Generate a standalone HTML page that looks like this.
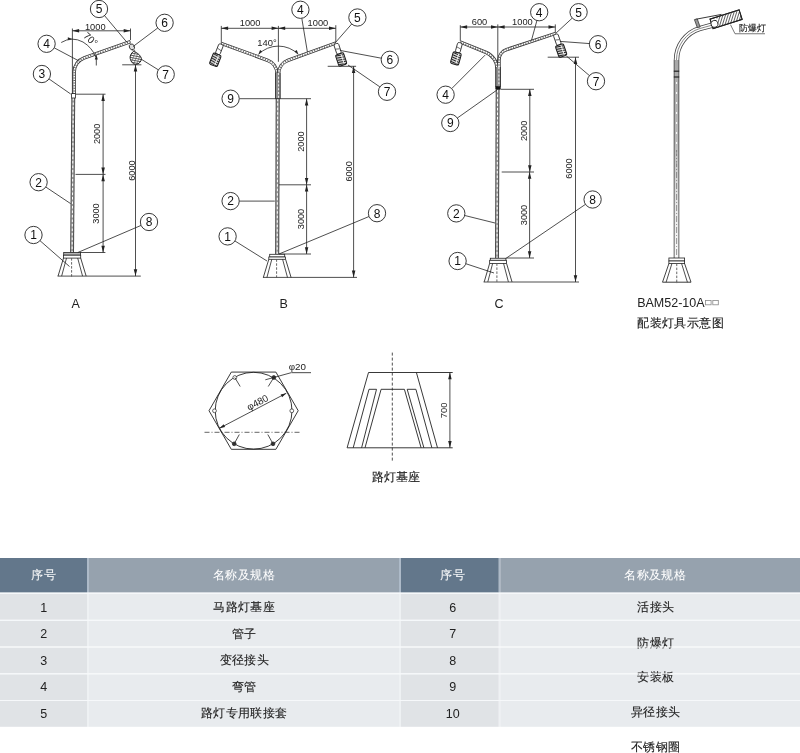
<!DOCTYPE html>
<html><head><meta charset="utf-8"><style>
html,body{margin:0;padding:0;background:#fff;width:800px;height:753px;overflow:hidden}
svg{position:absolute;left:0;top:0;will-change:transform;font-family:"Liberation Sans",sans-serif}
</style></head><body>
<svg width="800" height="753" viewBox="0 0 800 753">
<rect x="0" y="558" width="87" height="34.6" fill="#63778b"/><rect x="87" y="558" width="2" height="34.6" fill="#adbac8"/><rect x="89" y="558" width="310" height="34.6" fill="#96a2ae"/><rect x="399" y="558" width="2" height="34.6" fill="#adbac8"/><rect x="401" y="558" width="97.8" height="34.6" fill="#63778b"/><rect x="498.8" y="558" width="1.5" height="34.6" fill="#adbac8"/><rect x="500.3" y="558" width="300" height="34.6" fill="#96a2ae"/><rect x="0" y="592.6" width="800" height="1.4" fill="#f6f8fa"/><rect x="0" y="594" width="87" height="25.799999999999955" fill="#e0e3e6"/><rect x="87" y="594" width="2" height="25.799999999999955" fill="#eef1f3"/><rect x="89" y="594" width="310" height="25.799999999999955" fill="#e8ebee"/><rect x="399" y="594" width="2" height="25.799999999999955" fill="#eef1f3"/><rect x="401" y="594" width="97.8" height="25.799999999999955" fill="#e0e3e6"/><rect x="498.8" y="594" width="1.5" height="25.799999999999955" fill="#eef1f3"/><rect x="500.3" y="594" width="300" height="25.799999999999955" fill="#e8ebee"/><rect x="0" y="620.8" width="87" height="25.700000000000045" fill="#e0e3e6"/><rect x="87" y="620.8" width="2" height="25.700000000000045" fill="#eef1f3"/><rect x="89" y="620.8" width="310" height="25.700000000000045" fill="#e8ebee"/><rect x="399" y="620.8" width="2" height="25.700000000000045" fill="#eef1f3"/><rect x="401" y="620.8" width="97.8" height="25.700000000000045" fill="#e0e3e6"/><rect x="498.8" y="620.8" width="1.5" height="25.700000000000045" fill="#eef1f3"/><rect x="500.3" y="620.8" width="300" height="25.700000000000045" fill="#e8ebee"/><rect x="0" y="647.5" width="87" height="25.799999999999955" fill="#e0e3e6"/><rect x="87" y="647.5" width="2" height="25.799999999999955" fill="#eef1f3"/><rect x="89" y="647.5" width="310" height="25.799999999999955" fill="#e8ebee"/><rect x="399" y="647.5" width="2" height="25.799999999999955" fill="#eef1f3"/><rect x="401" y="647.5" width="97.8" height="25.799999999999955" fill="#e0e3e6"/><rect x="498.8" y="647.5" width="1.5" height="25.799999999999955" fill="#eef1f3"/><rect x="500.3" y="647.5" width="300" height="25.799999999999955" fill="#e8ebee"/><rect x="0" y="674.3" width="87" height="25.700000000000045" fill="#e0e3e6"/><rect x="87" y="674.3" width="2" height="25.700000000000045" fill="#eef1f3"/><rect x="89" y="674.3" width="310" height="25.700000000000045" fill="#e8ebee"/><rect x="399" y="674.3" width="2" height="25.700000000000045" fill="#eef1f3"/><rect x="401" y="674.3" width="97.8" height="25.700000000000045" fill="#e0e3e6"/><rect x="498.8" y="674.3" width="1.5" height="25.700000000000045" fill="#eef1f3"/><rect x="500.3" y="674.3" width="300" height="25.700000000000045" fill="#e8ebee"/><rect x="0" y="701" width="87" height="25.799999999999955" fill="#e0e3e6"/><rect x="87" y="701" width="2" height="25.799999999999955" fill="#eef1f3"/><rect x="89" y="701" width="310" height="25.799999999999955" fill="#e8ebee"/><rect x="399" y="701" width="2" height="25.799999999999955" fill="#eef1f3"/><rect x="401" y="701" width="97.8" height="25.799999999999955" fill="#e0e3e6"/><rect x="498.8" y="701" width="1.5" height="25.799999999999955" fill="#eef1f3"/><rect x="500.3" y="701" width="300" height="25.799999999999955" fill="#e8ebee"/><text x="43.60" y="578.70" font-size="12" text-anchor="middle" fill="#fff" letter-spacing="0.35" stroke="#fff" stroke-width="0.05">序号</text><text x="244.00" y="578.70" font-size="12" text-anchor="middle" fill="#fff" letter-spacing="0.35" stroke="#fff" stroke-width="0.05">名称及规格</text><text x="452.70" y="578.70" font-size="12" text-anchor="middle" fill="#fff" letter-spacing="0.35" stroke="#fff" stroke-width="0.05">序号</text><text x="655.30" y="578.70" font-size="12" text-anchor="middle" fill="#fff" letter-spacing="0.35" stroke="#fff" stroke-width="0.05">名称及规格</text><text x="43.70" y="612.10" font-size="12.5" text-anchor="middle" fill="#222" >1</text><text x="452.70" y="612.10" font-size="12.5" text-anchor="middle" fill="#222" >6</text><text x="244.30" y="611.30" font-size="12" text-anchor="middle" fill="#222" letter-spacing="0.35" stroke="#222" stroke-width="0.12">马路灯基座</text><text x="43.70" y="638.45" font-size="12.5" text-anchor="middle" fill="#222" >2</text><text x="452.70" y="638.45" font-size="12.5" text-anchor="middle" fill="#222" >7</text><text x="244.30" y="637.75" font-size="12" text-anchor="middle" fill="#222" letter-spacing="0.35" stroke="#222" stroke-width="0.12">管子</text><text x="43.70" y="664.80" font-size="12.5" text-anchor="middle" fill="#222" >3</text><text x="452.70" y="664.80" font-size="12.5" text-anchor="middle" fill="#222" >8</text><text x="244.30" y="664.20" font-size="12" text-anchor="middle" fill="#222" letter-spacing="0.35" stroke="#222" stroke-width="0.12">变径接头</text><text x="43.70" y="691.15" font-size="12.5" text-anchor="middle" fill="#222" >4</text><text x="452.70" y="691.15" font-size="12.5" text-anchor="middle" fill="#222" >9</text><text x="244.30" y="690.65" font-size="12" text-anchor="middle" fill="#222" letter-spacing="0.35" stroke="#222" stroke-width="0.12">弯管</text><text x="43.70" y="717.50" font-size="12.5" text-anchor="middle" fill="#222" >5</text><text x="452.70" y="717.50" font-size="12.5" text-anchor="middle" fill="#222" >10</text><text x="244.30" y="717.10" font-size="12" text-anchor="middle" fill="#222" letter-spacing="0.35" stroke="#222" stroke-width="0.12">路灯专用联接套</text><text x="655.80" y="610.80" font-size="12" text-anchor="middle" fill="#222" letter-spacing="0.35" stroke="#222" stroke-width="0.12">活接头</text><text x="655.80" y="646.60" font-size="12" text-anchor="middle" fill="#222" letter-spacing="0.35" stroke="#222" stroke-width="0.12">防爆灯</text><text x="655.80" y="680.90" font-size="12" text-anchor="middle" fill="#222" letter-spacing="0.35" stroke="#222" stroke-width="0.12">安装板</text><text x="655.80" y="716.00" font-size="12" text-anchor="middle" fill="#222" letter-spacing="0.35" stroke="#222" stroke-width="0.12">异径接头</text><text x="655.80" y="750.60" font-size="12" text-anchor="middle" fill="#222" letter-spacing="0.35" stroke="#222" stroke-width="0.12">不锈钢圈</text><rect x="0" y="619.8" width="800" height="1" fill="#f6f8fa"/><rect x="0" y="646.5" width="800" height="1" fill="#f6f8fa"/><rect x="0" y="673.3" width="800" height="1" fill="#f6f8fa"/><rect x="0" y="700" width="800" height="1" fill="#f6f8fa"/><line x1="73.30" y1="98.00" x2="72.10" y2="252.50" stroke="#333" stroke-width="3.8" /><line x1="73.30" y1="98.00" x2="72.10" y2="252.50" stroke="#9a9a9a" stroke-width="2.1999999999999997" /><line x1="73.30" y1="98.00" x2="72.10" y2="252.50" stroke="#fff" stroke-width="1.0" stroke-dasharray="2.5 2"/><path d="M74.2,94 L74.2,72 A15,15 0 0 1 84.25,57.84 L130.5,41.7" fill="none" stroke="#333" stroke-width="3.4"/><path d="M74.2,94 L74.2,72 A15,15 0 0 1 84.25,57.84 L130.5,41.7" fill="none" stroke="#fff" stroke-width="1.7999999999999998"/><path d="M74.2,94 L74.2,72 A15,15 0 0 1 84.25,57.84 L130.5,41.7" fill="none" stroke="#666" stroke-width="1.7999999999999998" stroke-dasharray="1 1.6"/><rect x="71.6" y="93.6" width="3.8" height="4.4" fill="#fff" stroke="#222" stroke-width="0.8"/><line x1="72.40" y1="28.50" x2="72.40" y2="94.00" stroke="#222" stroke-width="0.8" /><line x1="130.50" y1="28.50" x2="130.50" y2="40.00" stroke="#222" stroke-width="0.8" /><line x1="72.30" y1="30.80" x2="130.50" y2="30.80" stroke="#222" stroke-width="0.8" /><path d="M72.30,30.80 L79.10,29.05 L79.10,32.55Z" fill="#222"/><path d="M130.50,30.80 L123.70,32.55 L123.70,29.05Z" fill="#222"/><text transform="translate(95.25,29.90) scale(0.97,1)" font-size="9.6" text-anchor="middle" fill="#222">1000</text><line x1="76.00" y1="94.20" x2="105.50" y2="94.20" stroke="#222" stroke-width="0.8" /><line x1="75.50" y1="174.40" x2="105.50" y2="174.40" stroke="#222" stroke-width="0.8" /><line x1="80.00" y1="252.50" x2="105.40" y2="252.50" stroke="#222" stroke-width="0.8" /><line x1="103.10" y1="94.20" x2="103.10" y2="174.40" stroke="#222" stroke-width="0.8" /><path d="M103.10,94.20 L104.85,101.00 L101.35,101.00Z" fill="#222"/><path d="M103.10,174.40 L101.35,167.60 L104.85,167.60Z" fill="#222"/><text transform="translate(96.10,133.90) rotate(-90) scale(0.96,1)" font-size="9.6" text-anchor="middle" dominant-baseline="central" fill="#222">2000</text><line x1="103.10" y1="174.40" x2="103.10" y2="252.50" stroke="#222" stroke-width="0.8" /><path d="M103.10,174.40 L104.85,181.20 L101.35,181.20Z" fill="#222"/><path d="M103.10,252.50 L101.35,245.70 L104.85,245.70Z" fill="#222"/><text transform="translate(95.90,213.50) rotate(-90) scale(0.96,1)" font-size="9.6" text-anchor="middle" dominant-baseline="central" fill="#222">3000</text><line x1="122.20" y1="64.80" x2="141.40" y2="64.80" stroke="#222" stroke-width="0.8" /><line x1="57.60" y1="276.10" x2="140.80" y2="276.10" stroke="#222" stroke-width="0.8" /><line x1="135.50" y1="64.80" x2="135.50" y2="276.10" stroke="#222" stroke-width="0.8" /><path d="M135.50,64.80 L137.25,71.60 L133.75,71.60Z" fill="#222"/><path d="M135.50,276.10 L133.75,269.30 L137.25,269.30Z" fill="#222"/><text transform="translate(131.10,170.60) rotate(-90) scale(0.96,1)" font-size="9.6" text-anchor="middle" dominant-baseline="central" fill="#222">6000</text><path d="M61.2,42.5 Q72,36 83,42 Q92,47.5 95.8,57" fill="none" stroke="#222" stroke-width="0.8"/><path d="M72.30,38.90 L67.74,40.07 L67.88,37.28Z" fill="#222"/><path d="M96.30,54.60 L97.80,59.60 L94.80,59.60Z" fill="#222"/><line x1="96.30" y1="58.00" x2="96.30" y2="65.50" stroke="#222" stroke-width="0.8" /><text transform="translate(90.6,39.3) rotate(42)" font-size="10" text-anchor="middle" dominant-baseline="central" fill="#222">70°</text><ellipse cx="131.9" cy="46.9" rx="2.5" ry="3" fill="#ddd" stroke="#222" stroke-width="0.8" transform="rotate(-25 131.9 46.9)"/><path d="M132.6,49.8 L133.6,51.5 M134.2,49.5 L135,51.5" stroke="#222" stroke-width="0.7"/><defs><clipPath id="la"><path d="M133.5,51.3 C131,53.5 129.6,56 130.2,58.5 C130.8,62 133.5,64.5 135.8,64.5 C139,64 141.5,61.5 141.4,58.7 C141,55.5 137,52.5 133.5,51.3 Z"/></clipPath></defs><path d="M133.5,51.3 C131,53.5 129.6,56 130.2,58.5 C130.8,62 133.5,64.5 135.8,64.5 C139,64 141.5,61.5 141.4,58.7 C141,55.5 137,52.5 133.5,51.3 Z" fill="#fff"/><g clip-path="url(#la)"><line x1="128" y1="50.00" x2="143" y2="53.00" stroke="#333" stroke-width="0.8"/><line x1="128" y1="52.30" x2="143" y2="55.30" stroke="#333" stroke-width="0.8"/><line x1="128" y1="54.60" x2="143" y2="57.60" stroke="#333" stroke-width="0.8"/><line x1="128" y1="56.90" x2="143" y2="59.90" stroke="#333" stroke-width="0.8"/><line x1="128" y1="59.20" x2="143" y2="62.20" stroke="#333" stroke-width="0.8"/><line x1="128" y1="61.50" x2="143" y2="64.50" stroke="#333" stroke-width="0.8"/><line x1="128" y1="63.80" x2="143" y2="66.80" stroke="#333" stroke-width="0.8"/><line x1="127.00" y1="66" x2="133.00" y2="50" stroke="#555" stroke-width="0.6"/><line x1="130.00" y1="66" x2="136.00" y2="50" stroke="#555" stroke-width="0.6"/><line x1="133.00" y1="66" x2="139.00" y2="50" stroke="#555" stroke-width="0.6"/><line x1="136.00" y1="66" x2="142.00" y2="50" stroke="#555" stroke-width="0.6"/><line x1="139.00" y1="66" x2="145.00" y2="50" stroke="#555" stroke-width="0.6"/><line x1="142.00" y1="66" x2="148.00" y2="50" stroke="#555" stroke-width="0.6"/></g><path d="M133.5,51.3 C131,53.5 129.6,56 130.2,58.5 C130.8,62 133.5,64.5 135.8,64.5 C139,64 141.5,61.5 141.4,58.7 C141,55.5 137,52.5 133.5,51.3 Z" fill="none" stroke="#222" stroke-width="1"/><rect x="63.70" y="252.50" width="16.80" height="2.70" fill="#b5b5b5" stroke="#222" stroke-width="0.8"/><rect x="63.50" y="255.20" width="17.20" height="2.90" fill="#fff" stroke="#222" stroke-width="0.8"/><path d="M63.50,258.10 L58.05,276.10 M80.70,258.10 L86.15,276.10" stroke="#222" stroke-width="0.85" fill="none"/><path d="M66.50,258.10 L61.65,276.10 M77.70,258.10 L82.55,276.10" stroke="#222" stroke-width="0.8" fill="none"/><line x1="71.60" y1="258.10" x2="71.60" y2="277.60" stroke="#555" stroke-width="0.9" stroke-dasharray="2.5 1.5"/><line x1="104.56" y1="15.63" x2="127.10" y2="42.50" stroke="#222" stroke-width="0.8" /><circle cx="99.00" cy="9.00" r="8.65" fill="#fff" stroke="#222" stroke-width="0.9"/><text x="99.00" y="13.30" font-size="12" text-anchor="middle" fill="#111">5</text><line x1="54.24" y1="47.85" x2="78.10" y2="60.50" stroke="#222" stroke-width="0.8" /><circle cx="46.60" cy="43.80" r="8.65" fill="#fff" stroke="#222" stroke-width="0.9"/><text x="46.60" y="48.10" font-size="12" text-anchor="middle" fill="#111">4</text><line x1="49.00" y1="78.93" x2="70.70" y2="94.00" stroke="#222" stroke-width="0.8" /><circle cx="41.90" cy="74.00" r="8.65" fill="#fff" stroke="#222" stroke-width="0.9"/><text x="41.90" y="78.30" font-size="12" text-anchor="middle" fill="#111">3</text><line x1="157.69" y1="28.00" x2="133.10" y2="46.50" stroke="#222" stroke-width="0.8" /><circle cx="164.60" cy="22.80" r="8.65" fill="#fff" stroke="#222" stroke-width="0.9"/><text x="164.60" y="27.10" font-size="12" text-anchor="middle" fill="#111">6</text><line x1="158.35" y1="69.83" x2="141.10" y2="59.10" stroke="#222" stroke-width="0.8" /><circle cx="165.70" cy="74.40" r="8.65" fill="#fff" stroke="#222" stroke-width="0.9"/><text x="165.70" y="78.70" font-size="12" text-anchor="middle" fill="#111">7</text><line x1="45.79" y1="187.01" x2="70.60" y2="203.60" stroke="#222" stroke-width="0.8" /><circle cx="38.60" cy="182.20" r="8.65" fill="#fff" stroke="#222" stroke-width="0.9"/><text x="38.60" y="186.50" font-size="12" text-anchor="middle" fill="#111">2</text><line x1="40.01" y1="240.70" x2="69.50" y2="266.50" stroke="#222" stroke-width="0.8" /><circle cx="33.50" cy="235.00" r="8.65" fill="#fff" stroke="#222" stroke-width="0.9"/><text x="33.50" y="239.30" font-size="12" text-anchor="middle" fill="#111">1</text><line x1="141.05" y1="225.41" x2="77.80" y2="252.50" stroke="#222" stroke-width="0.8" /><circle cx="149.00" cy="222.00" r="8.65" fill="#fff" stroke="#222" stroke-width="0.9"/><text x="149.00" y="226.30" font-size="12" text-anchor="middle" fill="#111">8</text><text x="75.60" y="308.00" font-size="12.5" text-anchor="middle" fill="#222" >A</text><line x1="277.70" y1="98.70" x2="277.20" y2="254.30" stroke="#333" stroke-width="4.0" /><line x1="277.70" y1="98.70" x2="277.20" y2="254.30" stroke="#9a9a9a" stroke-width="2.4" /><line x1="277.70" y1="98.70" x2="277.20" y2="254.30" stroke="#fff" stroke-width="1.0" stroke-dasharray="2.5 2"/><path d="M276.90,98.70 L276.90,73.47 A14,14 0 0 0 267.69,60.31 L221.50,43.50" fill="none" stroke="#333" stroke-width="3.4"/><path d="M276.90,98.70 L276.90,73.47 A14,14 0 0 0 267.69,60.31 L221.50,43.50" fill="none" stroke="#fff" stroke-width="1.7999999999999998"/><path d="M276.90,98.70 L276.90,73.47 A14,14 0 0 0 267.69,60.31 L221.50,43.50" fill="none" stroke="#666" stroke-width="1.7999999999999998" stroke-dasharray="1 1.6"/><path d="M278.70,98.70 L278.70,73.59 A14,14 0 0 1 287.91,60.43 L335.80,43.00" fill="none" stroke="#333" stroke-width="3.4"/><path d="M278.70,98.70 L278.70,73.59 A14,14 0 0 1 287.91,60.43 L335.80,43.00" fill="none" stroke="#fff" stroke-width="1.7999999999999998"/><path d="M278.70,98.70 L278.70,73.59 A14,14 0 0 1 287.91,60.43 L335.80,43.00" fill="none" stroke="#666" stroke-width="1.7999999999999998" stroke-dasharray="1 1.6"/><line x1="277.80" y1="73.00" x2="277.80" y2="98.70" stroke="#333" stroke-width="5.4" /><line x1="277.80" y1="73.00" x2="277.80" y2="98.70" stroke="#8c8c8c" stroke-width="3.8000000000000003" /><line x1="278.60" y1="73.00" x2="278.60" y2="98.70" stroke="#fff" stroke-width="0.9" stroke-dasharray="2 1.8"/><line x1="221.30" y1="25.90" x2="221.30" y2="43.50" stroke="#222" stroke-width="0.8" /><line x1="278.40" y1="25.90" x2="278.40" y2="61.80" stroke="#222" stroke-width="0.8" /><line x1="335.80" y1="25.20" x2="335.80" y2="42.20" stroke="#222" stroke-width="0.8" /><line x1="221.30" y1="28.30" x2="278.40" y2="28.30" stroke="#222" stroke-width="0.8" /><path d="M221.30,28.30 L228.10,26.55 L228.10,30.05Z" fill="#222"/><path d="M278.40,28.30 L271.60,30.05 L271.60,26.55Z" fill="#222"/><text transform="translate(250.05,25.70) scale(0.97,1)" font-size="9.6" text-anchor="middle" fill="#222">1000</text><line x1="278.40" y1="28.30" x2="335.80" y2="28.30" stroke="#222" stroke-width="0.8" /><path d="M278.40,28.30 L285.20,26.55 L285.20,30.05Z" fill="#222"/><path d="M335.80,28.30 L329.00,30.05 L329.00,26.55Z" fill="#222"/><text transform="translate(317.95,25.70) scale(0.97,1)" font-size="9.6" text-anchor="middle" fill="#222">1000</text><path d="M258.46,54.36 A28.2,28.2 0 0 1 298.34,54.36" fill="none" stroke="#222" stroke-width="0.8"/><path d="M258.46,54.36 L260.04,49.92 L262.28,51.60Z" fill="#222"/><path d="M298.34,54.36 L294.52,51.60 L296.76,49.92Z" fill="#222"/><text x="267.00" y="46.30" font-size="9.4" text-anchor="middle" fill="#222" >140°</text><g transform="translate(221.50,43.80) rotate(21.18)"><rect x="-2.4" y="0.5" width="4.8" height="10.66" rx="1.6" fill="#fff" stroke="#222" stroke-width="0.8"/><line x1="-2" y1="5.58" x2="2" y2="6.58" stroke="#222" stroke-width="0.6"/><rect x="-4.2" y="11.16" width="8.4" height="12" rx="1.5" fill="#cfcfcf" stroke="#1a1a1a" stroke-width="1"/><line x1="-4" y1="12.16" x2="4" y2="13.36" stroke="#222" stroke-width="0.9"/><line x1="-4" y1="14.46" x2="4" y2="15.66" stroke="#222" stroke-width="0.9"/><line x1="-4" y1="16.76" x2="4" y2="17.96" stroke="#222" stroke-width="0.9"/><line x1="-4" y1="19.06" x2="4" y2="20.26" stroke="#222" stroke-width="0.9"/><line x1="-4" y1="21.36" x2="4" y2="22.56" stroke="#222" stroke-width="0.9"/><line x1="1.5" y1="12.16" x2="1.5" y2="22.16" stroke="#fff" stroke-width="0.8"/></g><g transform="translate(335.80,43.20) rotate(-18.33)"><rect x="-2.4" y="0.5" width="4.8" height="10.67" rx="1.6" fill="#fff" stroke="#222" stroke-width="0.8"/><line x1="-2" y1="5.59" x2="2" y2="6.59" stroke="#222" stroke-width="0.6"/><rect x="-4.2" y="11.17" width="8.4" height="12" rx="1.5" fill="#cfcfcf" stroke="#1a1a1a" stroke-width="1"/><line x1="-4" y1="12.17" x2="4" y2="13.37" stroke="#222" stroke-width="0.9"/><line x1="-4" y1="14.47" x2="4" y2="15.67" stroke="#222" stroke-width="0.9"/><line x1="-4" y1="16.77" x2="4" y2="17.97" stroke="#222" stroke-width="0.9"/><line x1="-4" y1="19.07" x2="4" y2="20.27" stroke="#222" stroke-width="0.9"/><line x1="-4" y1="21.37" x2="4" y2="22.57" stroke="#222" stroke-width="0.9"/><line x1="1.5" y1="12.17" x2="1.5" y2="22.17" stroke="#fff" stroke-width="0.8"/></g><line x1="327.70" y1="66.30" x2="356.10" y2="66.30" stroke="#222" stroke-width="0.8" /><line x1="239.50" y1="98.70" x2="311.00" y2="98.70" stroke="#222" stroke-width="0.8" /><line x1="279.00" y1="184.80" x2="311.00" y2="184.80" stroke="#222" stroke-width="0.8" /><line x1="279.00" y1="254.00" x2="311.00" y2="254.00" stroke="#222" stroke-width="0.8" /><line x1="306.60" y1="98.70" x2="306.60" y2="184.80" stroke="#222" stroke-width="0.8" /><path d="M306.60,98.70 L308.35,105.50 L304.85,105.50Z" fill="#222"/><path d="M306.60,184.80 L304.85,178.00 L308.35,178.00Z" fill="#222"/><text transform="translate(300.50,141.60) rotate(-90) scale(0.96,1)" font-size="9.6" text-anchor="middle" dominant-baseline="central" fill="#222">2000</text><line x1="306.60" y1="184.80" x2="306.60" y2="254.00" stroke="#222" stroke-width="0.8" /><path d="M306.60,184.80 L308.35,191.60 L304.85,191.60Z" fill="#222"/><path d="M306.60,254.00 L304.85,247.20 L308.35,247.20Z" fill="#222"/><text transform="translate(300.50,219.00) rotate(-90) scale(0.96,1)" font-size="9.6" text-anchor="middle" dominant-baseline="central" fill="#222">3000</text><line x1="353.60" y1="66.30" x2="353.60" y2="277.40" stroke="#222" stroke-width="0.8" /><path d="M353.60,66.30 L355.35,73.10 L351.85,73.10Z" fill="#222"/><path d="M353.60,277.40 L351.85,270.60 L355.35,270.60Z" fill="#222"/><text transform="translate(348.10,171.40) rotate(-90) scale(0.96,1)" font-size="9.6" text-anchor="middle" dominant-baseline="central" fill="#222">6000</text><line x1="263.00" y1="277.40" x2="357.00" y2="277.40" stroke="#222" stroke-width="0.8" /><rect x="269.70" y="254.30" width="15.00" height="2.70" fill="#fff" stroke="#222" stroke-width="0.8"/><rect x="268.80" y="257.00" width="16.80" height="2.30" fill="#fff" stroke="#222" stroke-width="0.8"/><path d="M268.80,259.30 L263.30,277.50 M285.60,259.30 L291.10,277.50" stroke="#222" stroke-width="0.85" fill="none"/><path d="M271.80,259.30 L266.90,277.50 M282.60,259.30 L287.50,277.50" stroke="#222" stroke-width="0.8" fill="none"/><line x1="276.60" y1="259.30" x2="276.60" y2="279.00" stroke="#555" stroke-width="0.9" stroke-dasharray="2.5 1.5"/><circle cx="230.60" cy="98.70" r="8.65" fill="#fff" stroke="#222" stroke-width="0.9"/><text x="230.60" y="103.00" font-size="12" text-anchor="middle" fill="#111">9</text><line x1="239.25" y1="201.10" x2="274.80" y2="201.10" stroke="#222" stroke-width="0.8" /><circle cx="230.60" cy="201.10" r="8.65" fill="#fff" stroke="#222" stroke-width="0.9"/><text x="230.60" y="205.40" font-size="12" text-anchor="middle" fill="#111">2</text><line x1="234.94" y1="240.98" x2="267.00" y2="261.00" stroke="#222" stroke-width="0.8" /><circle cx="227.60" cy="236.40" r="8.65" fill="#fff" stroke="#222" stroke-width="0.9"/><text x="227.60" y="240.70" font-size="12" text-anchor="middle" fill="#111">1</text><line x1="369.01" y1="216.52" x2="279.00" y2="254.00" stroke="#222" stroke-width="0.8" /><circle cx="377.00" cy="213.20" r="8.65" fill="#fff" stroke="#222" stroke-width="0.9"/><text x="377.00" y="217.50" font-size="12" text-anchor="middle" fill="#111">8</text><line x1="301.81" y1="18.28" x2="307.40" y2="52.00" stroke="#222" stroke-width="0.8" /><circle cx="300.40" cy="9.75" r="8.65" fill="#fff" stroke="#222" stroke-width="0.9"/><text x="300.40" y="14.05" font-size="12" text-anchor="middle" fill="#111">4</text><line x1="351.69" y1="24.00" x2="335.00" y2="43.00" stroke="#222" stroke-width="0.8" /><circle cx="357.40" cy="17.50" r="8.65" fill="#fff" stroke="#222" stroke-width="0.9"/><text x="357.40" y="21.80" font-size="12" text-anchor="middle" fill="#111">5</text><line x1="381.30" y1="58.20" x2="339.90" y2="50.40" stroke="#222" stroke-width="0.8" /><circle cx="389.80" cy="59.80" r="8.65" fill="#fff" stroke="#222" stroke-width="0.9"/><text x="389.80" y="64.10" font-size="12" text-anchor="middle" fill="#111">6</text><line x1="379.87" y1="86.90" x2="348.00" y2="65.00" stroke="#222" stroke-width="0.8" /><circle cx="387.00" cy="91.80" r="8.65" fill="#fff" stroke="#222" stroke-width="0.9"/><text x="387.00" y="96.10" font-size="12" text-anchor="middle" fill="#111">7</text><text x="283.60" y="308.00" font-size="12.5" text-anchor="middle" fill="#222" >B</text><line x1="497.60" y1="90.00" x2="497.00" y2="258.25" stroke="#333" stroke-width="3.8" /><line x1="497.60" y1="90.00" x2="497.00" y2="258.25" stroke="#9a9a9a" stroke-width="2.1999999999999997" /><line x1="497.60" y1="90.00" x2="497.00" y2="258.25" stroke="#fff" stroke-width="1.0" stroke-dasharray="2.5 2"/><path d="M497.20,89.00 L497.20,69.05 A18,18 0 0 0 485.94,52.36 L460.30,42.00" fill="none" stroke="#333" stroke-width="3.4"/><path d="M497.20,89.00 L497.20,69.05 A18,18 0 0 0 485.94,52.36 L460.30,42.00" fill="none" stroke="#fff" stroke-width="1.7999999999999998"/><path d="M497.20,89.00 L497.20,69.05 A18,18 0 0 0 485.94,52.36 L460.30,42.00" fill="none" stroke="#666" stroke-width="1.7999999999999998" stroke-dasharray="1 1.6"/><path d="M499.00,89.00 L499.00,60.07 A11,11 0 0 1 506.55,49.62 L555.30,33.50" fill="none" stroke="#333" stroke-width="3.4"/><path d="M499.00,89.00 L499.00,60.07 A11,11 0 0 1 506.55,49.62 L555.30,33.50" fill="none" stroke="#fff" stroke-width="1.7999999999999998"/><path d="M499.00,89.00 L499.00,60.07 A11,11 0 0 1 506.55,49.62 L555.30,33.50" fill="none" stroke="#666" stroke-width="1.7999999999999998" stroke-dasharray="1 1.6"/><line x1="498.10" y1="67.00" x2="498.10" y2="87.00" stroke="#333" stroke-width="5.4" /><line x1="498.10" y1="67.00" x2="498.10" y2="87.00" stroke="#8c8c8c" stroke-width="3.8000000000000003" /><line x1="498.90" y1="67.00" x2="498.90" y2="87.00" stroke="#fff" stroke-width="0.9" stroke-dasharray="2 1.8"/><rect x="495.6" y="86.2" width="4.6" height="3.6" fill="#111"/><line x1="460.30" y1="25.20" x2="460.30" y2="41.20" stroke="#222" stroke-width="0.8" /><line x1="497.80" y1="24.40" x2="497.80" y2="62.40" stroke="#222" stroke-width="0.8" /><line x1="555.30" y1="24.40" x2="555.30" y2="33.00" stroke="#222" stroke-width="0.8" /><line x1="460.30" y1="27.00" x2="497.80" y2="27.00" stroke="#222" stroke-width="0.8" /><path d="M460.30,27.00 L467.10,25.25 L467.10,28.75Z" fill="#222"/><path d="M497.80,27.00 L491.00,28.75 L491.00,25.25Z" fill="#222"/><text transform="translate(479.50,24.80) scale(0.97,1)" font-size="9.6" text-anchor="middle" fill="#222">600</text><line x1="497.80" y1="27.00" x2="555.30" y2="27.00" stroke="#222" stroke-width="0.8" /><path d="M497.80,27.00 L504.60,25.25 L504.60,28.75Z" fill="#222"/><path d="M555.30,27.00 L548.50,28.75 L548.50,25.25Z" fill="#222"/><text transform="translate(522.45,24.80) scale(0.97,1)" font-size="9.6" text-anchor="middle" fill="#222">1000</text><g transform="translate(460.30,42.30) rotate(15.29)"><rect x="-2.4" y="0.5" width="4.8" height="10.19" rx="1.6" fill="#fff" stroke="#222" stroke-width="0.8"/><line x1="-2" y1="5.35" x2="2" y2="6.35" stroke="#222" stroke-width="0.6"/><rect x="-4.2" y="10.69" width="8.4" height="12" rx="1.5" fill="#cfcfcf" stroke="#1a1a1a" stroke-width="1"/><line x1="-4" y1="11.69" x2="4" y2="12.89" stroke="#222" stroke-width="0.9"/><line x1="-4" y1="13.99" x2="4" y2="15.19" stroke="#222" stroke-width="0.9"/><line x1="-4" y1="16.29" x2="4" y2="17.49" stroke="#222" stroke-width="0.9"/><line x1="-4" y1="18.59" x2="4" y2="19.79" stroke="#222" stroke-width="0.9"/><line x1="-4" y1="20.89" x2="4" y2="22.09" stroke="#222" stroke-width="0.9"/><line x1="1.5" y1="11.69" x2="1.5" y2="21.69" stroke="#fff" stroke-width="0.8"/></g><g transform="translate(555.30,33.80) rotate(-19.35)"><rect x="-2.4" y="0.5" width="4.8" height="11.31" rx="1.6" fill="#fff" stroke="#222" stroke-width="0.8"/><line x1="-2" y1="5.90" x2="2" y2="6.90" stroke="#222" stroke-width="0.6"/><rect x="-4.2" y="11.81" width="8.4" height="12" rx="1.5" fill="#cfcfcf" stroke="#1a1a1a" stroke-width="1"/><line x1="-4" y1="12.81" x2="4" y2="14.01" stroke="#222" stroke-width="0.9"/><line x1="-4" y1="15.11" x2="4" y2="16.31" stroke="#222" stroke-width="0.9"/><line x1="-4" y1="17.41" x2="4" y2="18.61" stroke="#222" stroke-width="0.9"/><line x1="-4" y1="19.71" x2="4" y2="20.91" stroke="#222" stroke-width="0.9"/><line x1="-4" y1="22.01" x2="4" y2="23.21" stroke="#222" stroke-width="0.9"/><line x1="1.5" y1="12.81" x2="1.5" y2="22.81" stroke="#fff" stroke-width="0.8"/></g><line x1="547.70" y1="57.20" x2="579.00" y2="57.20" stroke="#222" stroke-width="0.8" /><line x1="500.50" y1="89.30" x2="534.00" y2="89.30" stroke="#222" stroke-width="0.8" /><line x1="501.70" y1="172.00" x2="534.00" y2="172.00" stroke="#222" stroke-width="0.8" /><line x1="506.00" y1="258.00" x2="534.00" y2="258.00" stroke="#222" stroke-width="0.8" /><line x1="529.80" y1="89.30" x2="529.80" y2="172.00" stroke="#222" stroke-width="0.8" /><path d="M529.80,89.30 L531.55,96.10 L528.05,96.10Z" fill="#222"/><path d="M529.80,172.00 L528.05,165.20 L531.55,165.20Z" fill="#222"/><text transform="translate(523.30,130.90) rotate(-90) scale(0.96,1)" font-size="9.6" text-anchor="middle" dominant-baseline="central" fill="#222">2000</text><line x1="529.60" y1="172.00" x2="529.60" y2="258.00" stroke="#222" stroke-width="0.8" /><path d="M529.60,172.00 L531.35,178.80 L527.85,178.80Z" fill="#222"/><path d="M529.60,258.00 L527.85,251.20 L531.35,251.20Z" fill="#222"/><text transform="translate(523.30,215.00) rotate(-90) scale(0.96,1)" font-size="9.6" text-anchor="middle" dominant-baseline="central" fill="#222">3000</text><line x1="575.50" y1="57.20" x2="575.50" y2="282.00" stroke="#222" stroke-width="0.8" /><path d="M575.50,57.20 L577.25,64.00 L573.75,64.00Z" fill="#222"/><path d="M575.50,282.00 L573.75,275.20 L577.25,275.20Z" fill="#222"/><text transform="translate(568.80,168.50) rotate(-90) scale(0.96,1)" font-size="9.6" text-anchor="middle" dominant-baseline="central" fill="#222">6000</text><line x1="483.60" y1="282.00" x2="579.00" y2="282.00" stroke="#222" stroke-width="0.8" /><rect x="490.30" y="258.25" width="15.60" height="2.05" fill="#fff" stroke="#222" stroke-width="0.8"/><rect x="489.65" y="260.30" width="16.90" height="3.10" fill="#fff" stroke="#222" stroke-width="0.8"/><path d="M489.65,263.40 L484.20,281.90 M506.55,263.40 L512.00,281.90" stroke="#222" stroke-width="0.85" fill="none"/><path d="M492.65,263.40 L487.80,281.90 M503.55,263.40 L508.40,281.90" stroke="#222" stroke-width="0.8" fill="none"/><line x1="496.90" y1="263.40" x2="496.90" y2="283.40" stroke="#555" stroke-width="0.9" stroke-dasharray="2.5 1.5"/><line x1="536.91" y1="20.54" x2="531.40" y2="40.60" stroke="#222" stroke-width="0.8" /><circle cx="539.20" cy="12.20" r="8.65" fill="#fff" stroke="#222" stroke-width="0.9"/><text x="539.20" y="16.50" font-size="12" text-anchor="middle" fill="#111">4</text><line x1="572.25" y1="18.08" x2="555.80" y2="33.30" stroke="#222" stroke-width="0.8" /><circle cx="578.60" cy="12.20" r="8.65" fill="#fff" stroke="#222" stroke-width="0.9"/><text x="578.60" y="16.50" font-size="12" text-anchor="middle" fill="#111">5</text><line x1="589.37" y1="43.57" x2="559.90" y2="41.40" stroke="#222" stroke-width="0.8" /><circle cx="598.00" cy="44.20" r="8.65" fill="#fff" stroke="#222" stroke-width="0.9"/><text x="598.00" y="48.50" font-size="12" text-anchor="middle" fill="#111">6</text><line x1="589.41" y1="75.59" x2="566.40" y2="56.00" stroke="#222" stroke-width="0.8" /><circle cx="596.00" cy="81.20" r="8.65" fill="#fff" stroke="#222" stroke-width="0.9"/><text x="596.00" y="85.50" font-size="12" text-anchor="middle" fill="#111">7</text><line x1="451.71" y1="88.58" x2="485.10" y2="55.10" stroke="#222" stroke-width="0.8" /><circle cx="445.60" cy="94.70" r="8.65" fill="#fff" stroke="#222" stroke-width="0.9"/><text x="445.60" y="99.00" font-size="12" text-anchor="middle" fill="#111">4</text><line x1="457.36" y1="118.01" x2="497.00" y2="90.00" stroke="#222" stroke-width="0.8" /><circle cx="450.30" cy="123.00" r="8.65" fill="#fff" stroke="#222" stroke-width="0.9"/><text x="450.30" y="127.30" font-size="12" text-anchor="middle" fill="#111">9</text><line x1="464.70" y1="215.48" x2="495.00" y2="223.00" stroke="#222" stroke-width="0.8" /><circle cx="456.30" cy="213.40" r="8.65" fill="#fff" stroke="#222" stroke-width="0.9"/><text x="456.30" y="217.70" font-size="12" text-anchor="middle" fill="#111">2</text><line x1="585.45" y1="204.36" x2="506.50" y2="258.00" stroke="#222" stroke-width="0.8" /><circle cx="592.60" cy="199.50" r="8.65" fill="#fff" stroke="#222" stroke-width="0.9"/><text x="592.60" y="203.80" font-size="12" text-anchor="middle" fill="#111">8</text><line x1="465.82" y1="263.71" x2="494.00" y2="273.00" stroke="#222" stroke-width="0.8" /><circle cx="457.60" cy="261.00" r="8.65" fill="#fff" stroke="#222" stroke-width="0.9"/><text x="457.60" y="265.30" font-size="12" text-anchor="middle" fill="#111">1</text><text x="499.00" y="308.00" font-size="12.5" text-anchor="middle" fill="#222" >C</text><defs><linearGradient id="dg" gradientUnits="userSpaceOnUse" x1="0" y1="60" x2="0" y2="258"><stop offset="0" stop-color="#a8a8a8"/><stop offset="0.4" stop-color="#b8b8b8"/><stop offset="0.75" stop-color="#e8e8e8"/><stop offset="1" stop-color="#f8f8f8"/></linearGradient></defs><path d="M676.5,258 L676.5,60" fill="none" stroke="#4a4a4a" stroke-width="5.6"/><path d="M676.5,258 L676.5,60" fill="none" stroke="url(#dg)" stroke-width="3.9"/><path d="M676.5,60 A33,33 0 0 1 699.9,28.5 L711.5,25.3" fill="none" stroke="#444" stroke-width="5.4"/><path d="M676.5,60 A33,33 0 0 1 699.9,28.5 L711.5,25.3" fill="none" stroke="#fff" stroke-width="3.8"/><path d="M676.5,60 A33,33 0 0 1 699.9,28.5 L711.5,25.3" fill="none" stroke="#555" stroke-width="0.7"/><line x1="676.60" y1="82.00" x2="676.60" y2="170.00" stroke="#fff" stroke-width="1" stroke-dasharray="2 8"/><line x1="676.60" y1="150.00" x2="676.60" y2="256.00" stroke="#555" stroke-width="0.6" stroke-dasharray="6 2 1 2"/><rect x="673.8" y="70.6" width="5.4" height="1.2" fill="#222"/><rect x="673.8" y="76.4" width="5.4" height="1.2" fill="#222"/><path d="M695.6,19.3 L721.5,14.4" stroke="#222" stroke-width="0.9"/><path d="M694.4,19.6 L697.3,19 L700.2,27 L697.3,27.6 Z" fill="#999" stroke="#222" stroke-width="0.7"/><defs><clipPath id="lc"><rect x="5" y="-5" width="24" height="10"/></clipPath></defs><g transform="translate(713,23.5) rotate(-17.7)"><rect x="-1.5" y="-5" width="30.5" height="10" fill="#fff" stroke="#222" stroke-width="1"/><g clip-path="url(#lc)"><line x1="-4.00" y1="5" x2="3.00" y2="-5" stroke="#555" stroke-width="0.85"/><line x1="-1.00" y1="5" x2="6.00" y2="-5" stroke="#555" stroke-width="0.85"/><line x1="2.00" y1="5" x2="9.00" y2="-5" stroke="#555" stroke-width="0.85"/><line x1="5.00" y1="5" x2="12.00" y2="-5" stroke="#555" stroke-width="0.85"/><line x1="8.00" y1="5" x2="15.00" y2="-5" stroke="#555" stroke-width="0.85"/><line x1="11.00" y1="5" x2="18.00" y2="-5" stroke="#555" stroke-width="0.85"/><line x1="14.00" y1="5" x2="21.00" y2="-5" stroke="#555" stroke-width="0.85"/><line x1="17.00" y1="5" x2="24.00" y2="-5" stroke="#555" stroke-width="0.85"/><line x1="20.00" y1="5" x2="27.00" y2="-5" stroke="#555" stroke-width="0.85"/><line x1="23.00" y1="5" x2="30.00" y2="-5" stroke="#555" stroke-width="0.85"/><line x1="26.00" y1="5" x2="33.00" y2="-5" stroke="#555" stroke-width="0.85"/><line x1="29.00" y1="5" x2="36.00" y2="-5" stroke="#555" stroke-width="0.85"/></g><rect x="-1.5" y="-5" width="30.5" height="10" fill="none" stroke="#222" stroke-width="1"/><circle cx="1.3" cy="0.8" r="3.4" fill="#fff" stroke="#222" stroke-width="0.9"/></g><path d="M730.5,24.7 L735,33.75 L765,33.75" fill="none" stroke="#555" stroke-width="0.8"/><text x="739.30" y="31.30" font-size="9.2" text-anchor="start" fill="#222" stroke="#222" stroke-width="0.15">防爆灯</text><rect x="668.90" y="258.00" width="15.70" height="3.00" fill="#fff" stroke="#222" stroke-width="0.8"/><rect x="668.90" y="261.00" width="15.70" height="2.60" fill="#fff" stroke="#222" stroke-width="0.8"/><path d="M668.90,263.60 L662.50,282.20 M684.60,263.60 L691.00,282.20" stroke="#222" stroke-width="0.85" fill="none"/><path d="M671.90,263.60 L666.10,282.20 M681.60,263.60 L687.40,282.20" stroke="#222" stroke-width="0.8" fill="none"/><line x1="676.75" y1="263.60" x2="676.75" y2="283.70" stroke="#555" stroke-width="0.9" stroke-dasharray="2.5 1.5"/><line x1="662.50" y1="282.20" x2="691.00" y2="282.20" stroke="#222" stroke-width="0.9" /><text x="637.20" y="306.50" font-size="12.5" text-anchor="start" fill="#222" >BAM52-10A</text><rect x="705.6" y="300.4" width="5.5" height="4.4" fill="none" stroke="#888" stroke-width="0.8"/><rect x="712.8" y="300.4" width="5.5" height="4.4" fill="none" stroke="#888" stroke-width="0.8"/><text x="637.20" y="326.50" font-size="12.2" text-anchor="start" fill="#222" letter-spacing="0.4" stroke="#222" stroke-width="0.15">配装灯具示意图</text><polygon points="298.20,410.70 275.90,449.32 231.30,449.32 209.00,410.70 231.30,372.08 275.90,372.08" fill="none" stroke="#222" stroke-width="0.9"/><circle cx="253.6" cy="410.7" r="38.4" fill="none" stroke="#222" stroke-width="0.9"/><circle cx="234.8" cy="377.5" r="1.9" fill="#fff" stroke="#222" stroke-width="0.7"/><circle cx="273.8" cy="377.5" r="1.9" fill="#333" stroke="#222" stroke-width="0.7"/><circle cx="214.5" cy="410.8" r="1.9" fill="#fff" stroke="#222" stroke-width="0.7"/><circle cx="291.8" cy="410.8" r="1.9" fill="#fff" stroke="#222" stroke-width="0.7"/><circle cx="234.2" cy="443.8" r="1.9" fill="#333" stroke="#222" stroke-width="0.7"/><circle cx="273" cy="443.8" r="1.9" fill="#333" stroke="#222" stroke-width="0.7"/><line x1="234.80" y1="377.50" x2="240.20" y2="386.50" stroke="#222" stroke-width="0.8" /><line x1="273.80" y1="377.50" x2="268.25" y2="386.50" stroke="#222" stroke-width="0.8" /><line x1="234.20" y1="443.80" x2="239.30" y2="434.50" stroke="#222" stroke-width="0.8" /><line x1="273.00" y1="443.80" x2="267.80" y2="434.50" stroke="#222" stroke-width="0.8" /><line x1="265.30" y1="379.80" x2="291.50" y2="372.60" stroke="#222" stroke-width="0.8" /><line x1="291.50" y1="372.60" x2="311.00" y2="372.60" stroke="#666" stroke-width="1.2" /><text x="297.30" y="370.30" font-size="9.8" text-anchor="middle" fill="#222" >φ20</text><line x1="219.50" y1="428.20" x2="286.25" y2="393.25" stroke="#222" stroke-width="0.8" /><path d="M219.50,428.20 L223.63,424.23 L225.11,427.07Z" fill="#222"/><path d="M286.25,393.25 L282.12,397.22 L280.64,394.38Z" fill="#222"/><text transform="translate(257.5,402.3) rotate(-27.6)" font-size="9.8" text-anchor="middle" dominant-baseline="central" fill="#222">φ480</text><line x1="204.50" y1="432.30" x2="299.80" y2="432.30" stroke="#222" stroke-width="0.7" stroke-dasharray="5 2 1 2"/><path d="M368.5,372.5 L452.7,372.5 M347.1,447.8 L452.7,447.8 M368.5,372.5 L347.1,447.8 M416.4,372.5 L437.5,447.8" fill="none" stroke="#222" stroke-width="0.9"/><path d="M353.2,447.8 L369,389.3 L376.5,389.3 L361.6,447.8 M365,447.8 L381.1,389.3 L404.4,389.3 L421.1,447.8 M423.9,447.8 L407.2,389.3 L415.9,389.3 L431.9,447.8" fill="none" stroke="#222" stroke-width="0.9"/><line x1="392.30" y1="352.60" x2="392.30" y2="460.80" stroke="#222" stroke-width="0.8" stroke-dasharray="3 2"/><line x1="449.90" y1="372.50" x2="449.90" y2="447.80" stroke="#222" stroke-width="0.8" /><path d="M449.90,372.50 L451.65,379.30 L448.15,379.30Z" fill="#222"/><path d="M449.90,447.80 L448.15,441.00 L451.65,441.00Z" fill="#222"/><text transform="translate(443.90,410.30) rotate(-90) scale(0.96,1)" font-size="9.8" text-anchor="middle" dominant-baseline="central" fill="#222">700</text><text x="396.20" y="480.80" font-size="12.2" text-anchor="middle" fill="#222" letter-spacing="0.1" stroke="#222" stroke-width="0.15">路灯基座</text>
</svg></body></html>
